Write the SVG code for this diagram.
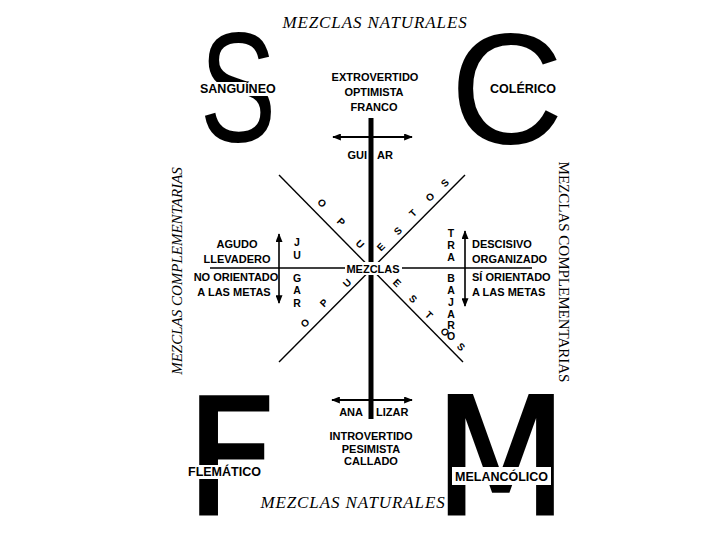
<svg xmlns="http://www.w3.org/2000/svg" width="720" height="540" viewBox="0 0 720 540">
<defs>
<marker id="ah" viewBox="0 0 10 8" refX="9" refY="4" markerWidth="9" markerHeight="7" markerUnits="userSpaceOnUse" orient="auto-start-reverse"><path d="M0,0 L10,4 L0,8 z" fill="#000"/></marker>
<style>
.big{font-family:"Liberation Sans",Arial,sans-serif;fill:#000}
.fm{font-family:"DejaVu Sans","Liberation Sans",sans-serif;fill:#000;stroke:#000;stroke-width:3;stroke-linejoin:miter}
.lb{font-family:"Liberation Sans",Arial,sans-serif;font-weight:bold;font-size:11px;fill:#000}
.tp{font-family:"Liberation Sans",Arial,sans-serif;font-weight:bold;font-size:12.5px;fill:#000}
.col{font-family:"Liberation Sans",Arial,sans-serif;font-weight:bold;font-size:10.5px;fill:#000;text-anchor:middle}
.op{font-family:"Liberation Sans",Arial,sans-serif;font-weight:bold;font-size:10px;fill:#000;text-anchor:middle;dominant-baseline:central}
.nat{font-family:"Liberation Serif","Times New Roman",serif;font-style:italic;font-size:17px;letter-spacing:0.9px;fill:#000}
.cmp{font-family:"Liberation Serif","Times New Roman",serif;font-size:15px;fill:#000;text-anchor:middle}
.ln{stroke:#000;fill:none}
.bg{fill:#fff}
</style>
</defs>
<rect width="720" height="540" fill="#fff"/>

<g id="big-letters">
<text class="big" font-size="155" transform="translate(238,141) scale(0.74,1)" text-anchor="middle">S</text>
<text class="big" font-size="157" x="507" y="143" text-anchor="middle">C</text>
<text class="fm" font-size="160" x="185" y="513.5">F</text>
<text class="fm" font-size="163" transform="translate(434,513.5) scale(0.95,1)">M</text>
</g>

<g id="connectors">
<line class="ln" x1="371" y1="118" x2="371" y2="419" stroke-width="5"/>
<line class="ln" x1="210" y1="268" x2="532" y2="268" stroke-width="1.6"/>
<line class="ln" x1="279" y1="175" x2="463" y2="362" stroke-width="1.4"/>
<line class="ln" x1="279" y1="362" x2="465" y2="175" stroke-width="1.4"/>
<line class="ln" x1="333" y1="137" x2="412" y2="137" stroke-width="1.8" marker-start="url(#ah)" marker-end="url(#ah)"/>
<line class="ln" x1="332" y1="400" x2="412" y2="400" stroke-width="1.8" marker-start="url(#ah)" marker-end="url(#ah)"/>
<line class="ln" x1="279" y1="234" x2="279" y2="303" stroke-width="1.6" marker-start="url(#ah)" marker-end="url(#ah)"/>
<line class="ln" x1="465" y1="231" x2="465" y2="306" stroke-width="1.6" marker-start="url(#ah)" marker-end="url(#ah)"/>
</g>

<g id="titles">
<text class="nat" x="375" y="28" text-anchor="middle">MEZCLAS NATURALES</text>
<text class="nat" x="353" y="508" text-anchor="middle">MEZCLAS NATURALES</text>
<text class="cmp" font-style="italic" font-size="15.5" transform="translate(182,271) rotate(-90)">MEZCLAS COMPLEMENTARIAS</text>
<text class="cmp" transform="translate(559,272) rotate(90)">MEZCLAS COMPLEMENTARIAS</text>
</g>

<g id="sanguineo">
<rect class="bg" x="198" y="82" width="81" height="14"/>
<text class="tp" x="200" y="93">SANGUÍNEO</text>
</g>
<g id="colerico">
<text class="tp" x="490" y="93">COLÉRICO</text>
</g>
<g id="flematico">
<rect class="bg" x="186" y="465" width="79" height="14"/>
<text class="tp" x="188" y="476">FLEMÁTICO</text>
</g>
<g id="melancolico">
<rect class="bg" x="452" y="467" width="99" height="18"/>
<text class="tp" x="455" y="481">MELANCÓLICO</text>
</g>

<g id="top-traits">
<text class="lb" x="375" y="81" text-anchor="middle">EXTROVERTIDO</text>
<text class="lb" x="374" y="96" text-anchor="middle">OPTIMISTA</text>
<text class="lb" x="374" y="111" text-anchor="middle">FRANCO</text>
<text class="lb" x="367" y="159" text-anchor="end">GUI</text>
<text class="lb" x="377" y="159">AR</text>
</g>

<g id="bottom-traits">
<text class="lb" x="363" y="416" text-anchor="end">ANA</text>
<text class="lb" x="376" y="416">LIZAR</text>
<text class="lb" font-size="11.5" x="371" y="440" text-anchor="middle">INTROVERTIDO</text>
<text class="lb" font-size="11.5" x="371" y="453" text-anchor="middle">PESIMISTA</text>
<text class="lb" font-size="11.5" x="371" y="465" text-anchor="middle">CALLADO</text>
</g>

<g id="left-traits">
<text class="lb" x="237" y="248" text-anchor="middle">AGUDO</text>
<text class="lb" x="237" y="263" text-anchor="middle">LLEVADERO</text>
<text class="lb" font-size="10.5" x="236" y="281" text-anchor="middle">NO ORIENTADO</text>
<text class="lb" x="234" y="296" text-anchor="middle">A LAS METAS</text>
<text class="col" x="297" y="246">J</text>
<text class="col" x="297" y="259">U</text>
<text class="col" x="297" y="282">G</text>
<text class="col" x="297" y="294">A</text>
<text class="col" x="297" y="307">R</text>
</g>

<g id="right-traits">
<text class="lb" x="472" y="248">DESCISIVO</text>
<text class="lb" x="472" y="263">ORGANIZADO</text>
<text class="lb" x="472" y="281">SÍ ORIENTADO</text>
<text class="lb" x="472" y="296">A LAS METAS</text>
<text class="col" x="451" y="237">T</text>
<text class="col" x="451" y="249">R</text>
<text class="col" x="451" y="261">A</text>
<text class="col" x="451" y="282">B</text>
<text class="col" x="451" y="294">A</text>
<text class="col" x="451" y="306">J</text>
<text class="col" x="451" y="318">A</text>
<text class="col" x="451" y="329">R</text>
<text class="col" x="451" y="340">O</text>
</g>

<g id="opuestos-top">
<text class="op" transform="translate(322,203) rotate(45)">O</text>
<text class="op" transform="translate(341,222) rotate(45)">P</text>
<text class="op" transform="translate(360,244) rotate(45)">U</text>
<text class="op" transform="translate(381,247) rotate(-45)">E</text>
<text class="op" transform="translate(398,231) rotate(-45)">S</text>
<text class="op" transform="translate(413,213) rotate(-45)">T</text>
<text class="op" transform="translate(430,197) rotate(-45)">O</text>
<text class="op" transform="translate(445,183) rotate(-45)">S</text>
</g>
<g id="opuestos-bottom">
<text class="op" transform="translate(305,323) rotate(-45)">O</text>
<text class="op" transform="translate(324,303) rotate(-45)">P</text>
<text class="op" transform="translate(347,283) rotate(-45)">U</text>
<text class="op" transform="translate(397,283) rotate(45)">E</text>
<text class="op" transform="translate(413,299) rotate(45)">S</text>
<text class="op" transform="translate(429,315) rotate(45)">T</text>
<text class="op" transform="translate(445,332) rotate(45)">O</text>
<text class="op" transform="translate(461,347) rotate(45)">S</text>
</g>

<g id="mezclas">
<rect class="bg" x="345" y="262" width="57" height="13"/>
<text class="lb" x="373" y="273" text-anchor="middle">MEZCLAS</text>
</g>
</svg>
